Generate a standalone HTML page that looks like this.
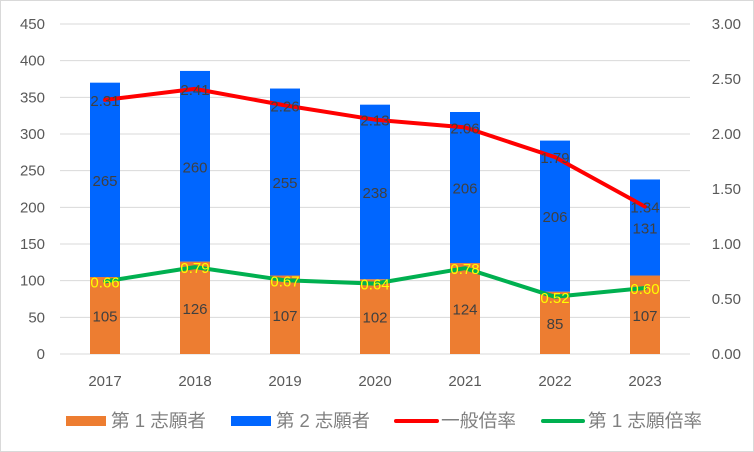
<!DOCTYPE html>
<html><head><meta charset="utf-8"><style>
body{margin:0;background:#fff;}
svg{display:block;font-family:"Liberation Sans","Noto Sans CJK JP",sans-serif;}
</style></head><body>
<svg id="chart" width="754" height="452" viewBox="0 0 754 452">
<rect x="0.5" y="0.5" width="753" height="451" fill="#fff" stroke="#d9d9d9"/>
<g id="grid"></g><g id="bars"></g><g id="lines"></g><g id="labels"></g><g id="axes"></g>
<g id="legend">
<rect x="66" y="416" width="40" height="10" fill="#ED7D31"/>
<text x="111" y="427" font-size="18" textLength="95" lengthAdjust="spacingAndGlyphs" fill="#7f7f7f">第 1 志願者</text>
<rect x="231" y="416" width="40" height="10" fill="#0066FF"/>
<text x="276" y="427" font-size="18" textLength="94" lengthAdjust="spacingAndGlyphs" fill="#7f7f7f">第 2 志願者</text>
<line x1="396" y1="421" x2="437" y2="421" stroke="#FF0000" stroke-width="4" stroke-linecap="round"/>
<text x="441" y="427" font-size="18" textLength="75" lengthAdjust="spacingAndGlyphs" fill="#7f7f7f">一般倍率</text>
<line x1="543" y1="421" x2="583" y2="421" stroke="#00B050" stroke-width="4" stroke-linecap="round"/>
<text x="588" y="427" font-size="18" textLength="114" lengthAdjust="spacingAndGlyphs" fill="#7f7f7f">第 1 志願倍率</text>
</g>
</svg>
<script>
const categories=["2017","2018","2019","2020","2021","2022","2023"];
const firstApplicants=[105,126,107,102,124,85,107];
const secondApplicants=[265,260,255,238,206,206,131];
const generalRatio=[2.31,2.41,2.26,2.13,2.06,1.79,1.34];
const firstRatio=[0.66,0.79,0.67,0.64,0.78,0.52,0.60];
const leftTicks=[0,50,100,150,200,250,300,350,400,450];
const rightTicks=["0.00","0.50","1.00","1.50","2.00","2.50","3.00"];
const NS="http://www.w3.org/2000/svg";
const X0=60,X1=690,Y0=354,Y1=24;
const band=(X1-X0)/categories.length;
const xc=i=>X0+band*(i+0.5);
const yL=v=>Y0-(v/450)*(Y0-Y1);
const yR=v=>Y0-(v/3)*(Y0-Y1);
function mk(tag,attrs,parent,txt){const e=document.createElementNS(NS,tag);for(const k in attrs)e.setAttribute(k,attrs[k]);if(txt!==undefined)e.textContent=txt;document.getElementById(parent).appendChild(e);return e;}
leftTicks.forEach((t,i)=>{
  const g=mk('line',{x1:X0,x2:X1,y1:yL(t),y2:yL(t),stroke:'#d9d9d9','stroke-width':1},'grid');
  
  
  const l=mk('text',{x:45,y:yL(t)+5,'text-anchor':'end','font-size':15,fill:'#595959'},'axes',String(t));
  
  
});
rightTicks.forEach(t=>{
  const l=mk('text',{x:741,y:yR(parseFloat(t))+5,'text-anchor':'end','font-size':15,fill:'#595959'},'axes',t);
  
  
});
const bw=30;
categories.forEach((c,i)=>{
  const x=xc(i)-bw/2;
  const b1=mk('rect',{x:x,y:yL(firstApplicants[i]),width:bw,height:Y0-yL(firstApplicants[i]),fill:'#ED7D31'},'bars');
  
  
  const top=firstApplicants[i]+secondApplicants[i];
  const b2=mk('rect',{x:x,y:yL(top),width:bw,height:yL(firstApplicants[i])-yL(top),fill:'#0066FF'},'bars');
  
  
  const t1=mk('text',{x:xc(i),y:(yL(firstApplicants[i])+Y0)/2+6,'text-anchor':'middle','font-size':15,fill:'#404040'},'labels',String(firstApplicants[i]));
  
  
  const t2=mk('text',{x:xc(i),y:(yL(firstApplicants[i])+yL(top))/2+6,'text-anchor':'middle','font-size':15,fill:'#404040'},'labels',String(secondApplicants[i]));
  
  
  const xl=mk('text',{x:xc(i),y:386,'text-anchor':'middle','font-size':15,fill:'#595959'},'axes',c);
  
  
});
const redPts=generalRatio.map((v,i)=>xc(i)+','+yR(v)).join(' ');
const red=mk('polyline',{points:redPts,fill:'none',stroke:'#FF0000','stroke-width':4,'stroke-linejoin':'round','stroke-linecap':'round'},'lines');


const grnPts=firstRatio.map((v,i)=>xc(i)+','+yR(v)).join(' ');
const grn=mk('polyline',{points:grnPts,fill:'none',stroke:'#00B050','stroke-width':4,'stroke-linejoin':'round','stroke-linecap':'round'},'lines');


categories.forEach((c,i)=>{
  const r=mk('text',{x:xc(i),y:yR(generalRatio[i])+6,'text-anchor':'middle','font-size':15,fill:'#404040'},'labels',generalRatio[i].toFixed(2));
  
  
  const g=mk('text',{x:xc(i),y:yR(firstRatio[i])+6,'text-anchor':'middle','font-size':15,fill:'#FFFF00'},'labels',firstRatio[i].toFixed(2));
  
  
});
</script>
</body></html>
